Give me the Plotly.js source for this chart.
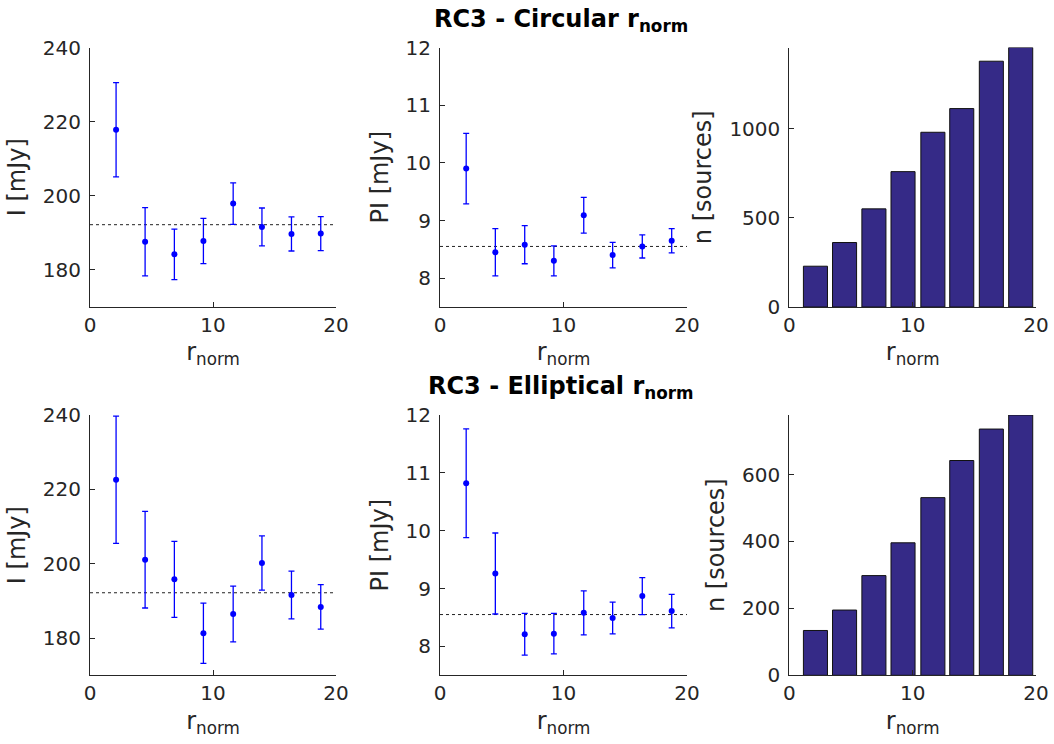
<!DOCTYPE html>
<html>
<head>
<meta charset="utf-8">
<script src="https://cdn.plot.ly/plotly-3.0.1.min.js"></script>
<style>html,body{margin:0;padding:0;background:#fff;}#chart{width:1054px;height:744px;}</style>
</head>
<body>
<div id="chart"></div>
<script>
// r_norm bin centres
const rNorm = [2.12, 4.48, 6.86, 9.22, 11.64, 13.98, 16.38, 18.76];

// RC3 - Circular r_norm
const circI    = [217.8, 187.6, 184.2, 187.8, 197.9, 191.6, 189.7, 189.8];
const circIerr = [12.7, 9.2, 6.8, 6.1, 5.6, 5.1, 4.6, 4.6];
const circPI    = [9.90, 8.45, 8.58, 8.30, 9.09, 8.40, 8.55, 8.65];
const circPIerr = [0.61, 0.41, 0.33, 0.26, 0.31, 0.22, 0.20, 0.21];
const circN = [229, 362, 551, 760, 981, 1114, 1380, 1457];

// RC3 - Elliptical r_norm
const ellI    = [222.6, 201.1, 195.8, 181.3, 186.5, 200.2, 191.6, 188.4];
const ellIerr = [17.1, 13.0, 10.2, 8.1, 7.5, 7.3, 6.4, 6.0];
const ellPI    = [10.82, 9.26, 8.21, 8.22, 8.58, 8.49, 8.87, 8.61];
const ellPIerr = [0.94, 0.70, 0.36, 0.35, 0.38, 0.275, 0.32, 0.29];
const ellN = [134, 195, 298, 396, 531, 642, 736, 778];

// reference (mean) levels
const meanI = 192.2;
const meanPI = 8.55;
const lineX = [0, 20];

const titles = ["RC3 - Circular r<sub>norm</sub>", "RC3 - Elliptical r<sub>norm</sub>"];
const xTicks = [0, 10, 20];
const iTicks = [180, 200, 220, 240];
const piTicks = [8, 9, 10, 11, 12];

const FONT = "DejaVu Sans, sans-serif";
const TXT = "#262626";
const BLUE = "#0000ff";
const BAR = "rgb(53,42,135)";

function errTrace(y, e, xa, ya) {
  return {
    type: "scatter", mode: "markers", x: rNorm, y: y, xaxis: xa, yaxis: ya,
    marker: {color: BLUE, size: 6},
    error_y: {type: "data", array: e, visible: true, color: BLUE, thickness: 1.3, width: 3},
    showlegend: false, hoverinfo: "x+y"
  };
}
function meanTrace(v, xa, ya) {
  return {
    type: "scatter", mode: "lines", x: lineX, y: [v, v], xaxis: xa, yaxis: ya,
    line: {color: "#222", width: 1, dash: "dot"}, showlegend: false, hoverinfo: "skip"
  };
}
function barTrace(n, xa, ya) {
  return {
    type: "bar", x: rNorm, y: n, xaxis: xa, yaxis: ya, width: 1.95,
    marker: {color: BAR, line: {color: "#111", width: 1}}, showlegend: false
  };
}

const data = [
  meanTrace(meanI, "x", "y"), errTrace(circI, circIerr, "x", "y"),
  meanTrace(meanPI, "x2", "y2"), errTrace(circPI, circPIerr, "x2", "y2"),
  barTrace(circN, "x3", "y3"),
  meanTrace(meanI, "x4", "y4"), errTrace(ellI, ellIerr, "x4", "y4"),
  meanTrace(meanPI, "x5", "y5"), errTrace(ellPI, ellPIerr, "x5", "y5"),
  barTrace(ellN, "x6", "y6")
];

const W = 1054, H = 744;
const colPx = [[90, 336], [440, 687], [789.3, 1036]];
const rowPx = [[47.5, 307], [415, 675.3]];
function xd(c) { return [colPx[c][0] / W, colPx[c][1] / W]; }
function yd(r) { return [1 - rowPx[r][1] / H, 1 - rowPx[r][0] / H]; }

function xAxis(c, r, anchor) {
  return {
    domain: xd(c), anchor: anchor, range: [0, 20], tickvals: xTicks,
    showline: true, linecolor: TXT, linewidth: 1, ticks: "inside", ticklen: 5, tickcolor: TXT,
    showgrid: false, zeroline: false, tickfont: {family: FONT, size: 20, color: TXT},
    title: {text: "r<sub>norm</sub>", font: {family: FONT, size: 24, color: TXT}, standoff: 7},
    fixedrange: true
  };
}
function yAxis(r, c, anchor, range, ticks, label) {
  return {
    domain: yd(r), anchor: anchor, range: range, tickvals: ticks,
    showline: true, linecolor: TXT, linewidth: 1, ticks: "inside", ticklen: 5, tickcolor: TXT,
    showgrid: false, zeroline: false, tickfont: {family: FONT, size: 20, color: TXT},
    ticklabelstandoff: 4,
    title: {text: label, font: {family: FONT, size: 24, color: TXT}, standoff: 10},
    fixedrange: true
  };
}

const layout = {
  width: W, height: H, margin: {l: 0, r: 0, t: 0, b: 0},
  paper_bgcolor: "#fff", plot_bgcolor: "#fff",
  font: {family: FONT, color: TXT},
  showlegend: false, bargap: 0,
  xaxis:  xAxis(0, 0, "y"),  yaxis:  yAxis(0, 0, "x",  [170, 240], iTicks, "I [mJy]"),
  xaxis2: xAxis(1, 0, "y2"), yaxis2: yAxis(0, 1, "x2", [7.5, 12], piTicks, "PI [mJy]"),
  xaxis3: xAxis(2, 0, "y3"), yaxis3: yAxis(0, 2, "x3", [0, 1457], [0, 500, 1000], "n [sources]"),
  xaxis4: xAxis(0, 1, "y4"), yaxis4: yAxis(1, 0, "x4", [170, 240], iTicks, "I [mJy]"),
  xaxis5: xAxis(1, 1, "y5"), yaxis5: yAxis(1, 1, "x5", [7.5, 12], piTicks, "PI [mJy]"),
  xaxis6: xAxis(2, 1, "y6"), yaxis6: yAxis(1, 2, "x6", [0, 778], [0, 200, 400, 600], "n [sources]"),
  annotations: [
    {text: "<b>" + titles[0] + "</b>", xref: "paper", yref: "paper", x: 561 / W, y: 1 - 3 / H,
     xanchor: "center", yanchor: "top", showarrow: false, font: {family: FONT, size: 24, color: "#000"}},
    {text: "<b>" + titles[1] + "</b>", xref: "paper", yref: "paper", x: 561 / W, y: 1 - 370 / H,
     xanchor: "center", yanchor: "top", showarrow: false, font: {family: FONT, size: 24, color: "#000"}}
  ]
};

Plotly.newPlot("chart", data, layout, {staticPlot: true, displayModeBar: false});
</script>
</body>
</html>
